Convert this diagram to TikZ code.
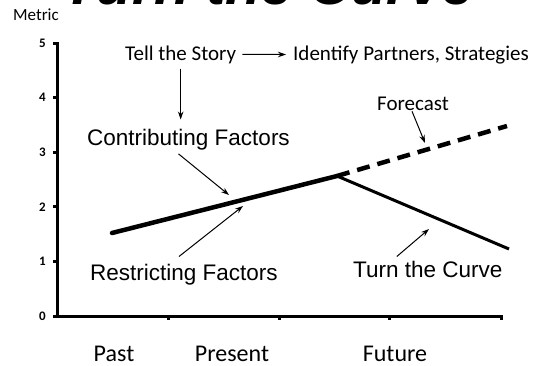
\documentclass[tikz,border=0pt]{standalone}
\usepackage{fontspec}
\setmainfont{Carlito}
\newfontfamily\arialfont{Liberation Sans}
\usetikzlibrary{arrows.meta}

\tikzset{
  axis/.style={line width=3pt},
  trend/.style={line width=4.5pt},
  pointer/.style={line width=1pt, -{Stealth[length=8pt,width=5.5pt]}},
  calibri/.style={inner sep=0pt, font=\fontsize{21}{21}\selectfont},
  arial/.style={inner sep=0pt, font=\arialfont\fontsize{22.5}{22.5}\selectfont},
  ticklabel/.style={inner sep=0pt, anchor=east, font=\bfseries\fontsize{13}{13}\selectfont},
  timelabel/.style={inner sep=0pt, anchor=base, font=\fontsize{24}{24}\selectfont},
}

\begin{document}
\begin{tikzpicture}[x=1pt,y=-1pt]
  \useasboundingbox (0,0) rectangle (539,365);
  \clip (0,0) rectangle (539,365);

  % Heading (runs off the top)
  \node[inner sep=0pt, anchor=base, font=\arialfont\bfseries\itshape\fontsize{58}{58}\selectfont]
    (heading) at (268,4) {Turn the Curve};

  % Axes
  \node[inner sep=0pt, font=\fontsize{17}{17}\selectfont] (metric) at (36,15) {Metric};
  \draw[axis] (53,43) -- (57,43) -- (57,316) -- (501,316) -- (501,320);
  \foreach \v in {0,...,5} {
    \draw[axis] (53,{316-54.6*\v}) -- (57,{316-54.6*\v});
    \node[ticklabel] (tick\v) at (46,{316-54.6*\v}) {\v};
  }
  \foreach \x in {168,279,389}
    \draw[axis] (\x,316) -- (\x,320);

  \node[timelabel] (past) at (114,361) {Past};
  \node[timelabel] (present) at (232,361) {Present};
  \node[timelabel] (future) at (395,361) {Future};

  % Trend, forecast and turn
  \coordinate (start) at (112,233);
  \coordinate (peak) at (337,176);
  \coordinate (fcend) at (507,126);
  \coordinate (turnend) at (509,249);
  \draw[trend, line cap=round] (start) -- (peak);
  \draw[trend, dash pattern=on 13pt off 8pt] (peak) -- (fcend);
  \draw[line width=3pt] (peak) -- (turnend);

  % Labels
  \node[calibri, anchor=base west] (story) at (125,60) {Tell the Story};
  \node[calibri, anchor=base west] (partners) at (293,60) {Identify Partners, Strategies};
  \node[calibri, anchor=base west] (forecast) at (377,110) {Forecast};
  \node[arial, anchor=base west] (contrib) at (87,145) {Contributing Factors};
  \node[arial, anchor=base west] (restrict) at (90,280) {Restricting Factors};
  \node[arial, anchor=base west] (turn) at (353,277) {Turn the Curve};

  \coordinate (contribtip) at (229,195);
  \coordinate (restricttip) at (243,206);
  \coordinate (turntip) at (429,229);
  \coordinate (forecasttip) at (425,143);

  % Pointers
  \draw[pointer, shorten <=6pt, shorten >=7pt] (story.east) -- (partners.west);
  \draw[pointer, shorten <=5pt, shorten >=9pt] (story.south) -- (story.south |- contrib.north);
  \draw[pointer] ([xshift=-10pt,yshift=-4pt]contrib.south) -- (contribtip);
  \draw[pointer] ([xshift=-5pt,yshift=7pt]restrict.north) -- (restricttip);
  \draw[pointer] ([xshift=-31pt,yshift=4pt]turn.north) -- (turntip);
  \draw[pointer] ([xshift=-1pt,yshift=-1pt]forecast.south) -- (forecasttip);
\end{tikzpicture}
\end{document}
